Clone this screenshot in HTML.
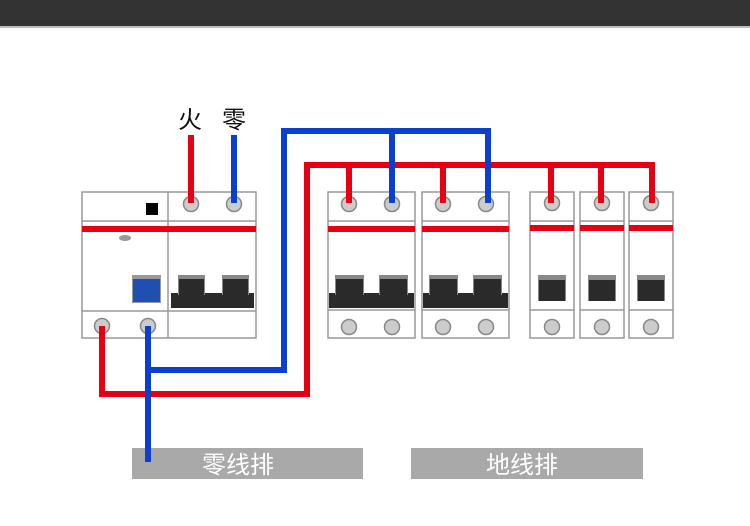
<!DOCTYPE html>
<html><head><meta charset="utf-8"><style>
html,body{margin:0;padding:0;background:#fff;width:750px;height:526px;overflow:hidden}
</style></head><body>
<svg width="750" height="526" xmlns="http://www.w3.org/2000/svg" font-family="Liberation Sans, Noto Sans CJK SC, sans-serif">
<rect x="0" y="0" width="750" height="26" fill="#333"/>
<rect x="0" y="26" width="750" height="2" fill="#bbb"/>

<!-- RCD main unit -->
<g stroke="#999" stroke-width="1.5" fill="#fff">
<rect x="82" y="192" width="174" height="146"/>
<line x1="168" y1="192" x2="168" y2="338"/>
<line x1="82" y1="221" x2="256" y2="221"/>
<line x1="82" y1="311" x2="256" y2="311"/>
</g>
<rect x="82" y="226" width="174" height="6" fill="#e60012"/>
<rect x="146" y="203" width="12" height="12" fill="#000"/>
<ellipse cx="125" cy="238" rx="6" ry="3" fill="#999"/>
<rect x="132" y="275" width="29" height="28" fill="#999"/>
<rect x="133" y="279" width="27" height="23" fill="#1f4fb0"/>
<rect x="171" y="293" width="83" height="15" fill="#2a2a2a"/>
<rect x="178" y="275" width="27" height="20" fill="#888"/>
<rect x="179" y="279" width="25" height="16" fill="#2a2a2a"/>
<rect x="222" y="275" width="27" height="20" fill="#888"/>
<rect x="223" y="279" width="25" height="16" fill="#2a2a2a"/>
<g fill="#ccc" stroke="#888" stroke-width="1.5">
<circle cx="191" cy="204" r="7.5"/><circle cx="234" cy="204" r="7.5"/>
<circle cx="102" cy="326" r="7.5"/><circle cx="148" cy="326" r="7.5"/>
</g>

<!-- 2P breakers -->
<g id="b2">
<g stroke="#999" stroke-width="1.5" fill="#fff">
<rect x="328" y="192" width="87" height="146"/>
<line x1="328" y1="221" x2="415" y2="221"/>
<line x1="328" y1="310" x2="415" y2="310"/>
</g>
<rect x="328" y="226" width="87" height="6" fill="#e60012"/>
<rect x="329" y="293" width="85" height="15" fill="#2a2a2a"/>
<rect x="335" y="275" width="29" height="20" fill="#888"/>
<rect x="336" y="279" width="27" height="16" fill="#2a2a2a"/>
<rect x="379" y="275" width="29" height="20" fill="#888"/>
<rect x="380" y="279" width="27" height="16" fill="#2a2a2a"/>
<g fill="#ccc" stroke="#888" stroke-width="1.5">
<circle cx="349" cy="204" r="7.5"/><circle cx="392" cy="204" r="7.5"/>
<circle cx="349" cy="327" r="7.5"/><circle cx="392" cy="327" r="7.5"/>
</g>
</g>
<use href="#b2" x="94"/>

<!-- 1P breakers -->
<g id="b1">
<g stroke="#999" stroke-width="1.5" fill="#fff">
<rect x="530" y="192" width="44" height="146"/>
<line x1="530" y1="221" x2="574" y2="221"/>
<line x1="530" y1="310" x2="574" y2="310"/>
</g>
<rect x="530" y="225" width="44" height="6" fill="#e60012"/>
<rect x="538" y="275" width="28" height="26" fill="#888"/>
<rect x="539" y="280" width="26" height="21" fill="#2a2a2a"/>
<g fill="#ccc" stroke="#888" stroke-width="1.5">
<circle cx="552" cy="203" r="7.5"/><circle cx="552" cy="327" r="7.5"/>
</g>
</g>
<use href="#b1" x="50"/>
<use href="#b1" x="99"/>

<!-- Wires -->
<g fill="none" stroke-width="6" stroke-linecap="butt" stroke-linejoin="miter">
<path d="M191 135 V203" stroke="#e60012"/>
<path d="M234 135 V203" stroke="#0a3fd0"/>
<path d="M102 326 V394 H307 V165 H652 V203 M349 165 V203 M443 165 V203 M551 165 V203 M601 165 V203" stroke="#e60012"/>
<path d="M148 326 V462 M148 370 H284 V131 H488 V203 M392 131 V203" stroke="#0a3fd0"/>
</g>
<path d="M148 388 V400" stroke="#0a3fd0" stroke-width="6"/>

<text x="190" y="128" font-size="24" text-anchor="middle" fill="#111">火</text>
<text x="234" y="128" font-size="24" text-anchor="middle" fill="#111">零</text>

<rect x="132" y="448" width="231" height="31" fill="#a9a9a9"/>
<path d="M148 448 V462" stroke="#0a3fd0" stroke-width="6"/>
<text x="238" y="473" font-size="24" text-anchor="middle" fill="#fff">零线排</text>
<rect x="411" y="448" width="232" height="31" fill="#a9a9a9"/>
<text x="522" y="473" font-size="24" text-anchor="middle" fill="#fff">地线排</text>
</svg>
</body></html>
